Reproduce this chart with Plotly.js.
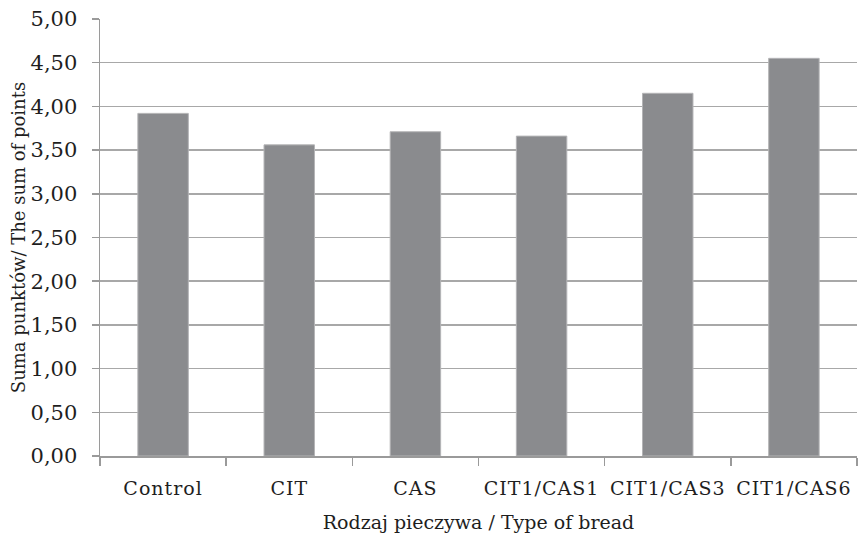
<!DOCTYPE html>
<html>
<head>
<meta charset="utf-8">
<script src="https://cdn.plot.ly/plotly-3.0.1.min.js"></script>
<style>
html,body{margin:0;padding:0;background:#fff;}
#chart{width:859px;height:533px;}
#chart .xtick text{letter-spacing:1px;}
</style>
</head>
<body>
<div id="chart"></div>
<script>
const categories = ["Control", "CIT", "CAS", "CIT1/CAS1", "CIT1/CAS3", "CIT1/CAS6"];
const values = [3.92, 3.56, 3.71, 3.66, 4.15, 4.55];
const xTitle = "Rodzaj pieczywa / Type of bread";
const yTitle = "Suma punktów/ The sum of points";

const serif = "DejaVu Serif";

const trace = {
  type: "bar",
  x: categories,
  y: values,
  marker: {color: "#8a8b8e", line: {color: "#b4b4b6", width: 1}},
  hoverinfo: "x+y"
};

const layout = {
  width: 859,
  height: 533,
  separators: ", ",
  margin: {l: 100, r: 2, t: 19, b: 77},
  paper_bgcolor: "#ffffff",
  plot_bgcolor: "#ffffff",
  bargap: 0.6,
  showlegend: false,
  font: {family: serif, color: "#1e1e1e", size: 20},
  xaxis: {
    type: "category",
    showline: true,
    linecolor: "#9a9a9a",
    linewidth: 1.5,
    ticks: "outside",
    tickson: "boundaries",
    ticklen: 8,
    tickcolor: "#9a9a9a",
    tickwidth: 1.5,
    showgrid: false,
    tickangle: 0,
    ticklabelstandoff: 15,
    tickfont: {family: serif, size: 19, color: "#1e1e1e"},
    title: {text: xTitle, font: {family: serif, size: 19, color: "#1e1e1e"}, standoff: 20},
    automargin: false
  },
  yaxis: {
    range: [0, 5],
    dtick: 0.5,
    tick0: 0,
    tickformat: ".2f",
    showline: true,
    linecolor: "#9a9a9a",
    linewidth: 1.5,
    ticks: "outside",
    ticklen: 7,
    tickcolor: "#9a9a9a",
    tickwidth: 1.5,
    ticklabelstandoff: 10,
    showgrid: true,
    gridcolor: "#a8a8a8",
    gridwidth: 1.5,
    zeroline: false,
    tickfont: {family: serif, size: 21, color: "#1e1e1e"},
    title: {text: yTitle, font: {family: serif, size: 18, color: "#1e1e1e"}, standoff: 0},
    automargin: false
  }
};

Plotly.newPlot("chart", [trace], layout, {displayModeBar: false, staticPlot: true});
</script>
</body>
</html>
